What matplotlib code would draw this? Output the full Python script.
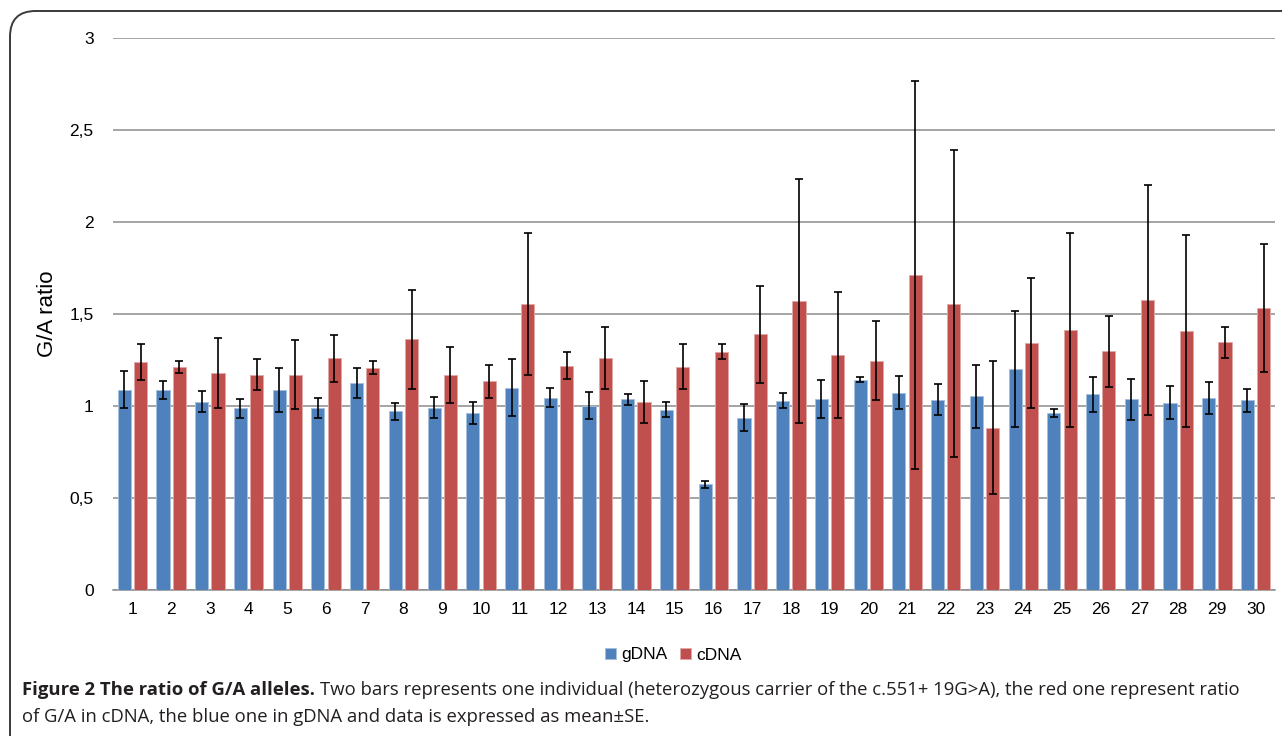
import matplotlib
matplotlib.use('Agg')
import matplotlib.pyplot as plt
from matplotlib.patches import FancyBboxPatch
import numpy as np

# data (mean +- SE)
individuals = [str(i) for i in range(1, 31)]
gdna = [1.089, 1.087, 1.022, 0.987, 1.087, 0.991, 1.125, 0.971, 0.991, 0.962,
        1.100, 1.045, 1.002, 1.036, 0.980, 0.575, 0.936, 1.029, 1.037, 1.144,
        1.073, 1.035, 1.052, 1.201, 0.963, 1.064, 1.037, 1.019, 1.043, 1.030]
gdna_se = [0.099, 0.049, 0.057, 0.053, 0.117, 0.054, 0.079, 0.046, 0.056, 0.059,
           0.156, 0.053, 0.074, 0.028, 0.041, 0.018, 0.073, 0.040, 0.102, 0.012,
           0.092, 0.083, 0.172, 0.317, 0.022, 0.094, 0.112, 0.092, 0.086, 0.060]
cdna = [1.240, 1.211, 1.178, 1.169, 1.171, 1.260, 1.209, 1.363, 1.169, 1.134,
        1.552, 1.220, 1.261, 1.022, 1.214, 1.294, 1.389, 1.570, 1.278, 1.247,
        1.714, 1.557, 0.882, 1.341, 1.413, 1.297, 1.575, 1.406, 1.346, 1.533]
cdna_se = [0.098, 0.032, 0.190, 0.084, 0.190, 0.128, 0.035, 0.270, 0.152, 0.091,
           0.386, 0.071, 0.171, 0.112, 0.123, 0.041, 0.264, 0.661, 0.344, 0.214,
           1.055, 0.832, 0.360, 0.352, 0.525, 0.192, 0.625, 0.521, 0.083, 0.347]
yticks = [0, 0.5, 1, 1.5, 2, 2.5, 3]
ytick_labels = ['0', '0,5', '1', '1,5', '2', '2,5', '3']

W, H = 1282, 736
fig = plt.figure(figsize=(W / 100, H / 100), dpi=100)
ax = fig.add_axes([113 / W, 1 - 590 / H, (1275 - 113) / W, (590 - 38) / H])

x = np.arange(len(individuals))
bw = 0.34
err_kw = dict(ecolor='black', elinewidth=1.2, capsize=3.2, capthick=1.2)
ax.bar(x - 0.21, gdna, bw, yerr=gdna_se, color='#4F81BD', edgecolor='#A7C0DE',
       linewidth=0.6, error_kw=err_kw, label='gDNA', zorder=3)
ax.bar(x + 0.21, cdna, bw, yerr=cdna_se, color='#C0504D', edgecolor='#E0A8A6',
       linewidth=0.6, error_kw=err_kw, label='cDNA', zorder=3)

ax.set_xlim(-0.5, len(individuals) - 0.5)
ax.set_ylim(0, 3)
ax.set_yticks(yticks)
ax.set_yticklabels(ytick_labels)
ax.set_xticks(x)
ax.set_xticklabels(individuals)
ax.yaxis.grid(True, color='#8C8C8C', linewidth=1.1, zorder=0)
ax.set_axisbelow(True)
for s in ['top', 'right', 'left']:
    ax.spines[s].set_visible(False)
ax.spines['bottom'].set_color('#8C8C8C')
ax.spines['bottom'].set_linewidth(1.1)
ax.tick_params(axis='both', length=0, labelsize=12.5, labelcolor='black',
               labelfontfamily='Liberation Sans')
ax.tick_params(axis='y', pad=14)
ax.tick_params(axis='x', pad=9)
ax.set_ylabel('G/A ratio', fontsize=16, family='Liberation Sans')
ax.yaxis.set_label_coords(-55 / (1275 - 113), (590 - 314) / (590 - 38))

fig.legend(loc='center', bbox_to_anchor=(673 / W, 1 - 655 / H), ncol=2,
           frameon=False, handlelength=0.65, handleheight=0.65,
           handletextpad=0.3, columnspacing=0.7,
           prop={'family': 'Liberation Sans', 'size': 12.5})

# rounded frame around the figure
frame = FancyBboxPatch((10 / W, -0.2), 1.2, 1.2 - 11 / H,
                       boxstyle='round,pad=0,rounding_size=0.02',
                       transform=fig.transFigure, fill=False,
                       edgecolor='#3A3A3A', linewidth=1.4, mutation_aspect=W / H)
fig.patches.append(frame)

# caption
fs = 13.3
renderer = fig.canvas.get_renderer()
t1 = fig.text(22 / W, 1 - 690 / H, 'Figure 2 The ratio of G/A alleles.',
              fontsize=fs, family='Open Sans', weight='bold', color='#231F20',
              va='center', ha='left')
bb = t1.get_window_extent(renderer)
fig.text(bb.x1 / W + 5 / W, 1 - 690 / H,
         'Two bars represents one individual (heterozygous carrier of the c.551+ 19G>A), '
         'the red one represent ratio',
         fontsize=fs, family='Open Sans', color='#231F20', va='center', ha='left')
fig.text(22 / W, 1 - 717 / H,
         'of G/A in cDNA, the blue one in gDNA and data is expressed as mean\u00b1SE.',
         fontsize=fs, family='Open Sans', color='#231F20', va='center', ha='left')

fig.savefig('out.png', dpi=100)
